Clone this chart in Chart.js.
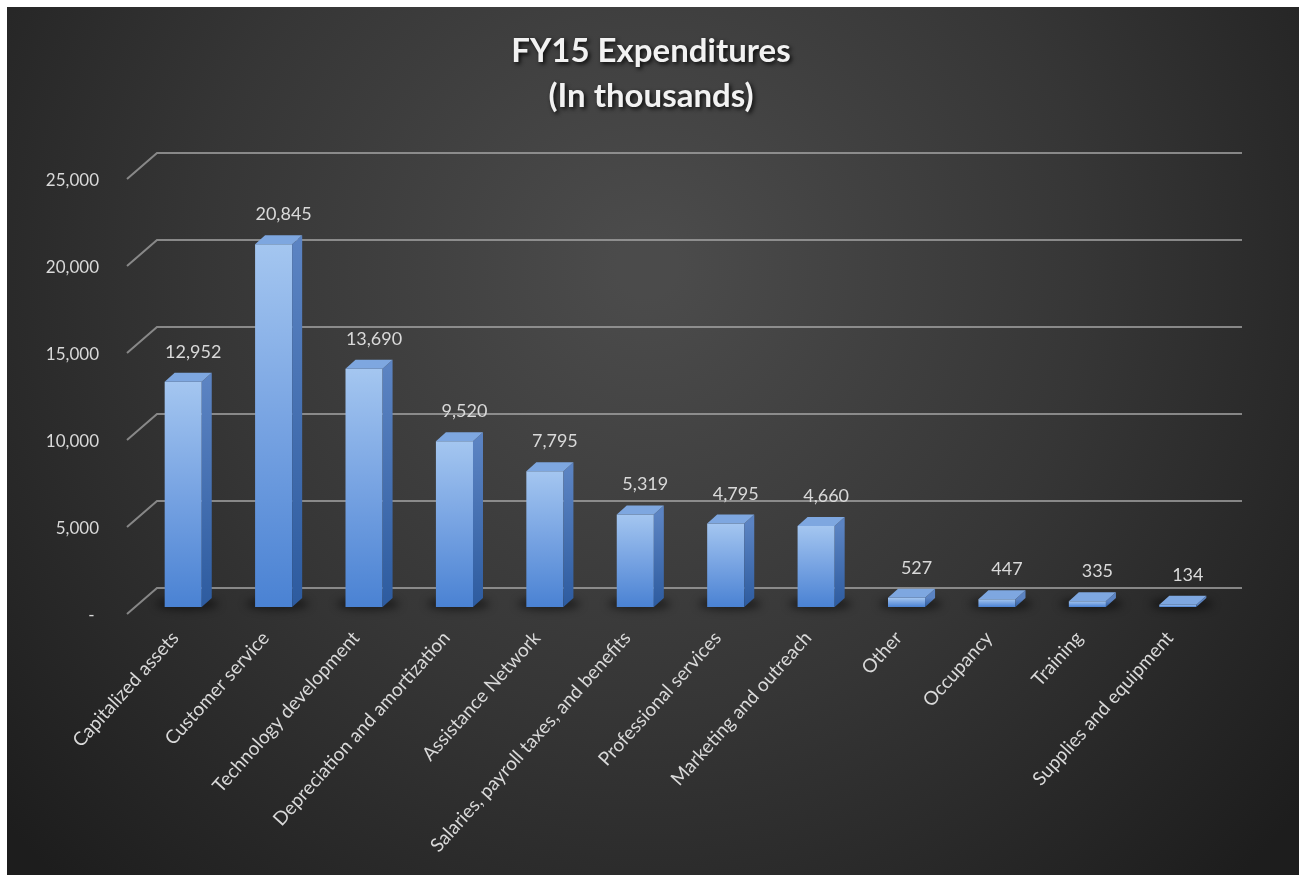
<!DOCTYPE html>
<html>
<head>
<meta charset="utf-8">
<script src="https://cdn.jsdelivr.net/npm/chart.js@4"></script>
<style>
  html, body { margin: 0; background: #fff; }
  #wrap { position: absolute; left: 7px; top: 7px; width: 1292px; height: 868px; }
</style>
</head>
<body>
<div id="wrap"><canvas id="chart" width="1292" height="868"></canvas></div>
<script>
const categories = [
  'Capitalized assets', 'Customer service', 'Technology development',
  'Depreciation and amortization', 'Assistance Network',
  'Salaries, payroll taxes, and benefits', 'Professional services',
  'Marketing and outreach', 'Other', 'Occupancy', 'Training',
  'Supplies and equipment'
];
const expenditures = [12952, 20845, 13690, 9520, 7795, 5319, 4795, 4660, 527, 447, 335, 134];
const yTicks = [0, 5000, 10000, 15000, 20000, 25000];
const titleLines = ['FY15 Expenditures', '(In thousands)'];

const FONT = 'Lato, "Open Sans", sans-serif';
const fmt = v => v.toLocaleString('en-US');

// fake 3D look: back wall grid, bar sides/tops, value labels, title
const look = {
  id: 'look',
  beforeDraw(chart) {
    const { ctx, width, height } = chart;
    const g = ctx.createRadialGradient(640, 260, 30, 640, 260, 850);
    g.addColorStop(0, '#4b4b4b');
    g.addColorStop(0.5, '#363636');
    g.addColorStop(1, '#1d1d1d');
    ctx.save();
    ctx.fillStyle = g;
    ctx.fillRect(0, 0, width, height);
    ctx.restore();
  },
  beforeDatasetsDraw(chart) {
    const { ctx, chartArea: a } = chart;
    const y = chart.scales.y;
    ctx.save();
    ctx.strokeStyle = 'rgba(165,165,165,0.75)';
    ctx.lineWidth = 2;
    yTicks.forEach(v => {
      const py = y.getPixelForValue(v);
      ctx.beginPath();
      ctx.moveTo(a.left - 11, py + 7);
      ctx.lineTo(a.left + 19, py - 19);
      ctx.lineTo(a.right + 19, py - 19);
      ctx.stroke();
    });
    // soft shadows on the floor
    ctx.fillStyle = 'rgba(0,0,0,0.5)';
    ctx.filter = 'blur(4px)';
    chart.getDatasetMeta(0).data.forEach(bar => {
      ctx.beginPath();
      ctx.ellipse(bar.x + 4, bar.base - 3, bar.width * 0.85, 6, 0, 0, Math.PI * 2);
      ctx.fill();
    });
    ctx.restore();
  },
  afterDatasetsDraw(chart) {
    const { ctx } = chart;
    const dx = 10, dy = 9;
    ctx.save();
    chart.getDatasetMeta(0).data.forEach((bar, i) => {
      const l = bar.x - bar.width / 2, r = bar.x + bar.width / 2;
      const top = bar.y, base = bar.base;
      // side
      const sg = ctx.createLinearGradient(0, top, 0, base);
      sg.addColorStop(0, '#5b83c2');
      sg.addColorStop(1, '#2d5b9f');
      ctx.fillStyle = sg;
      ctx.beginPath();
      ctx.moveTo(r, top);
      ctx.lineTo(r + dx, top - dy);
      ctx.lineTo(r + dx, base - dy);
      ctx.lineTo(r, base);
      ctx.closePath();
      ctx.fill();
      // top
      ctx.fillStyle = '#7ea7e0';
      ctx.beginPath();
      ctx.moveTo(l, top);
      ctx.lineTo(l + dx, top - dy);
      ctx.lineTo(r + dx, top - dy);
      ctx.lineTo(r, top);
      ctx.closePath();
      ctx.fill();
      // value
      ctx.fillStyle = '#d9d9d9';
      ctx.font = '18px ' + FONT;
      ctx.textAlign = 'center';
      ctx.textBaseline = 'alphabetic';
      ctx.fillText(fmt(expenditures[i]), bar.x + 10, top - 24);
    });
    ctx.restore();
  },
  afterDraw(chart) {
    const { ctx, width } = chart;
    ctx.save();
    ctx.font = 'bold 33px ' + FONT;
    ctx.fillStyle = '#f2f2f2';
    ctx.textAlign = 'center';
    ctx.textBaseline = 'alphabetic';
    ctx.shadowColor = 'rgba(0,0,0,0.85)';
    ctx.shadowBlur = 4;
    ctx.shadowOffsetX = 2;
    ctx.shadowOffsetY = 2;
    titleLines.forEach((t, i) => ctx.fillText(t, width / 2 - 2, 55 + i * 45));
    ctx.restore();
  }
};

function frontFill(context) {
  const chart = context.chart;
  if (!chart.chartArea || context.raw == null) return '#6b9be0';
  const y = chart.scales.y;
  const top = y.getPixelForValue(context.raw);
  const base = y.getPixelForValue(0);
  const g = chart.ctx.createLinearGradient(0, top, 0, Math.max(base, top + 1));
  g.addColorStop(0, '#a4c6f0');
  g.addColorStop(0.5, '#77a3e2');
  g.addColorStop(1, '#4a82d3');
  return g;
}

new Chart(document.getElementById('chart'), {
  type: 'bar',
  data: {
    labels: categories,
    datasets: [{
      data: expenditures,
      backgroundColor: frontFill,
      borderWidth: 0,
      barPercentage: 0.41,
      categoryPercentage: 1
    }]
  },
  options: {
    responsive: false,
    animation: false,
    layout: { padding: { top: 165, left: 31, right: 76, bottom: 4 } },
    plugins: {
      legend: { display: false },
      title: { display: false },
      tooltip: { enabled: false }
    },
    scales: {
      x: {
        grid: { display: false },
        border: { display: false },
        ticks: {
          color: '#d9d9d9',
          font: { family: FONT, size: 19 },
          minRotation: 48,
          maxRotation: 48,
          autoSkip: false,
          padding: 12,
          labelOffset: -8
        },
        afterFit(axis) { axis.height = 264; }
      },
      y: {
        min: 0,
        max: 25000,
        grid: { display: false },
        border: { display: false },
        afterBuildTicks(axis) { axis.ticks = yTicks.map(v => ({ value: v })); },
        ticks: {
          color: '#d9d9d9',
          font: { family: FONT, size: 17 },
          padding: 31,
          labelOffset: 9,
          callback: v => (v === 0 ? '- ' : fmt(v))
        },
        afterFit(axis) { axis.width = 100; }
      }
    }
  },
  plugins: [look]
});
</script>
</body>
</html>
